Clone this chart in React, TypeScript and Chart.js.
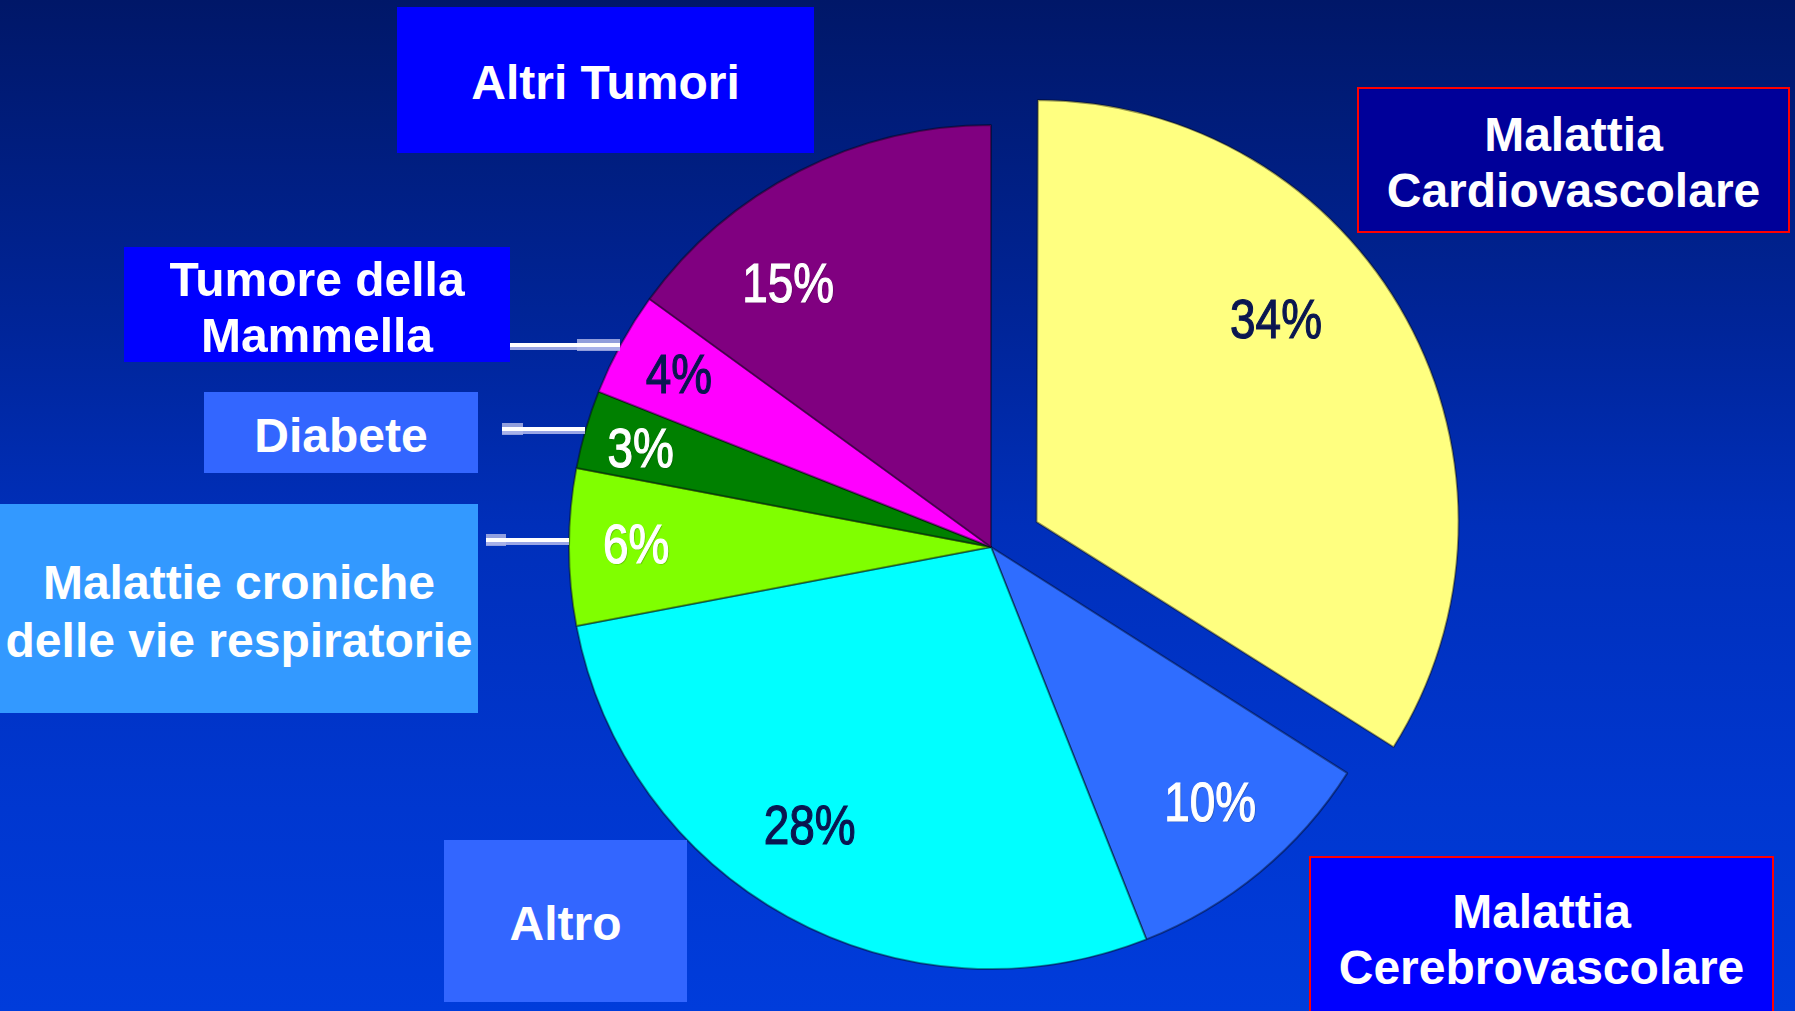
import React, { useEffect, useRef } from "react";
import { Chart, registerables } from "chart.js";

Chart.register(...registerables);

// ---- data ----
const categories = [
  "Malattia Cardiovascolare",
  "Malattia Cerebrovascolare",
  "Altro",
  "Malattie croniche delle vie respiratorie",
  "Diabete",
  "Tumore della Mammella",
  "Altri Tumori",
];
const shares = [34, 10, 28, 6, 3, 4, 15];
const percentLabels = ["34%", "10%", "28%", "6%", "3%", "4%", "15%"];

// ---- styles ----
const sliceColors = ["#ffff80", "#2f6dff", "#00ffff", "#80ff00", "#008000", "#ff00ff", "#800080"];
const labelColors = ["#0a1650", "#ffffff", "#0a1650", "#ffffff", "#ffffff", "#0a1650", "#ffffff"];
const sliceOffsets = [208, 0, 0, 0, 0, 0, 0];
const labelAngleFrac = [0.405, 0.467, 0.544, 0.53, 0.47, 0.524, 0.306];
const labelRadiusFrac = [0.76, 0.795, 0.784, 0.841, 0.863, 0.847, 0.79];

// keep exploded slices at the same radius as the others
const keepRadiusPlugin = {
  id: "keepRadius",
  afterDatasetsUpdate(chart: any) {
    const meta = chart.getDatasetMeta(0);
    meta.data.forEach((el: any) => {
      const o = (el.options && el.options.offset) || 0;
      if (!o) return;
      const circ = el.endAngle - el.startAngle;
      const fix = 1 - Math.sin(Math.min(Math.PI, circ || 0));
      el.outerRadius = el.outerRadius - (o / 4) * fix;
    });
  },
};

const percentPlugin = {
  id: "percentLabels",
  afterDatasetsDraw(chart: any) {
    const ctx = chart.ctx;
    const meta = chart.getDatasetMeta(0);
    meta.data.forEach((el: any, i: number) => {
      const { x, y, startAngle, endAngle, outerRadius } = el.getProps(
        ["x", "y", "startAngle", "endAngle", "outerRadius"],
        true
      );
      const mid = (startAngle + endAngle) / 2;
      const off = (el.options.offset || 0) / 4;
      const cx = x + Math.cos(mid) * off;
      const cy = y + Math.sin(mid) * off;
      const a = startAngle + (endAngle - startAngle) * labelAngleFrac[i];
      const r = outerRadius * labelRadiusFrac[i];
      const px = cx + Math.cos(a) * r;
      const py = cy + Math.sin(a) * r;
      ctx.save();
      ctx.translate(px, py);
      ctx.scale(0.82, 1);
      ctx.font = '56px "Liberation Sans", Arial, sans-serif';
      ctx.textAlign = "center";
      ctx.textBaseline = "alphabetic";
      if (labelColors[i] === "#ffffff") {
        ctx.shadowColor = "rgba(0,0,0,0.3)";
        ctx.shadowOffsetX = 1;
        ctx.shadowOffsetY = 1;
        ctx.shadowBlur = 1;
      }
      ctx.fillStyle = labelColors[i];
      ctx.fillText(percentLabels[i], 0, 20);
      ctx.shadowColor = "rgba(0,0,0,0)";
      ctx.strokeStyle = labelColors[i];
      ctx.lineWidth = 1.2;
      ctx.strokeText(percentLabels[i], 0, 20);
      ctx.restore();
    });
  },
};

type BoxProps = {
  left: number;
  top: number;
  width: number;
  height: number;
  bg: string;
  border?: string;
  lines: string[];
  lineHeight?: number;
};

function LabelBox({ left, top, width, height, bg, border, lines, lineHeight = 56 }: BoxProps) {
  return (
    <div
      style={{
        position: "absolute",
        left,
        top,
        width,
        height,
        boxSizing: "border-box",
        background: bg,
        border: border ? `2px solid ${border}` : "none",
        display: "flex",
        flexDirection: "column",
        alignItems: "center",
        justifyContent: "center",
        color: "#ffffff",
        fontFamily: '"Liberation Sans", Arial, sans-serif',
        fontWeight: 700,
        fontSize: 48,
        lineHeight: `${lineHeight}px`,
        whiteSpace: "nowrap",
      }}
    >
      {lines.map((t, i) => (
        <span key={i} style={{ display: "block", position: "relative", top: 3 }}>
          {t}
        </span>
      ))}
    </div>
  );
}

function Connector({ left, top, width, bandLeft, bandWidth }: { left: number; top: number; width: number; bandLeft: number; bandWidth: number }) {
  return (
    <>
      <div style={{ position: "absolute", left: bandLeft, top: top - 4, width: bandWidth, height: 12, background: "rgba(170,180,230,0.85)" }} />
      <div style={{ position: "absolute", left, top: top + 4, width, height: 3, background: "rgba(170,180,235,0.9)" }} />
      <div style={{ position: "absolute", left, top, width, height: 4, background: "#ffffff" }} />
    </>
  );
}

export default function App() {
  const canvasRef = useRef<HTMLCanvasElement | null>(null);

  useEffect(() => {
    if (!canvasRef.current) return;
    const chart = new Chart(canvasRef.current, {
      type: "pie",
      data: {
        labels: categories,
        datasets: [
          {
            data: shares,
            backgroundColor: sliceColors,
            borderColor: "rgba(0,0,0,0.4)",
            borderWidth: 2,
            offset: sliceOffsets,
            radius: 422,
          } as any,
        ],
      },
      options: {
        responsive: false,
        animation: false,
        events: [],
        layout: { padding: { left: 187, right: 0, top: 83, bottom: 0 } },
        plugins: {
          legend: { display: false },
          tooltip: { enabled: false },
        },
      } as any,
      plugins: [keepRadiusPlugin as any, percentPlugin as any],
    });
    return () => chart.destroy();
  }, []);

  return (
    <div
      style={{
        position: "absolute",
        left: 0,
        top: 0,
        width: 1795,
        height: 1011,
        overflow: "hidden",
        background:
          "linear-gradient(to bottom, #001768 0%, #00259a 33%, #002fba 52%, #0037d0 80%, #003cdb 100%)",
      }}
    >
      <canvas
        ref={canvasRef}
        width={1795}
        height={1011}
        style={{ position: "absolute", left: 0, top: 0, display: "block" }}
      />
      <Connector left={510} top={343} width={110} bandLeft={577} bandWidth={43} />
      <Connector left={502} top={427} width={83} bandLeft={502} bandWidth={21} />
      <Connector left={486} top={538} width={83} bandLeft={486} bandWidth={20} />

      <LabelBox left={397} top={7} width={417} height={146} bg="#0000ff" lines={["Altri Tumori"]} />
      <LabelBox
        left={1357}
        top={87}
        width={433}
        height={146}
        bg="#000099"
        border="#ff0000"
        lines={["Malattia", "Cardiovascolare"]}
      />
      <LabelBox left={124} top={247} width={386} height={115} bg="#0000ff" lines={["Tumore della", "Mammella"]} />
      <LabelBox left={204} top={392} width={274} height={81} bg="#3366ff" lines={["Diabete"]} />
      <LabelBox
        left={0}
        top={504}
        width={478}
        height={209}
        bg="#3399ff"
        lines={["Malattie croniche", "delle vie respiratorie"]}
        lineHeight={58}
      />
      <LabelBox left={444} top={840} width={243} height={162} bg="#3366ff" lines={["Altro"]} />
      <LabelBox
        left={1309}
        top={856}
        width={465}
        height={162}
        bg="#0000ff"
        border="#ff0000"
        lines={["Malattia", "Cerebrovascolare"]}
      />
    </div>
  );
}
